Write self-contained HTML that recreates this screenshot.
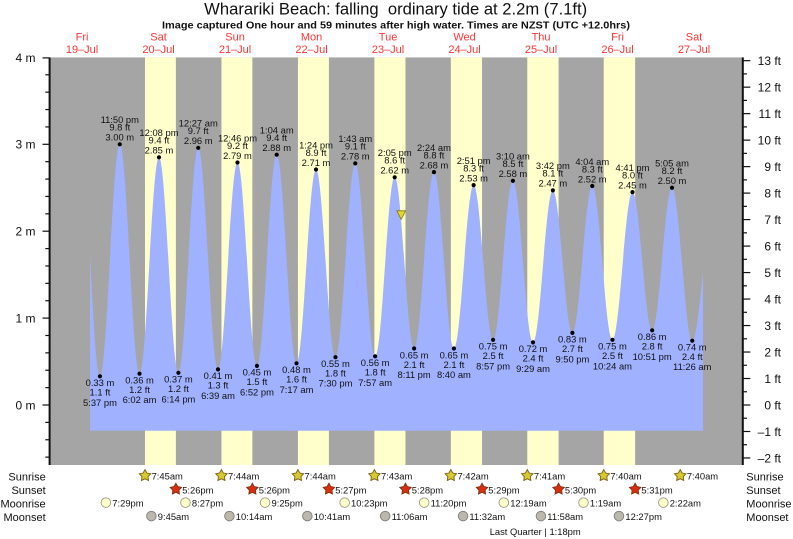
<!DOCTYPE html>
<html><head><meta charset="utf-8"><style>
html,body{margin:0;padding:0;background:#fff;}
svg{display:block;font-family:"Liberation Sans",Arial,sans-serif;}
.lb{font-size:9.4px;fill:#111;text-anchor:middle;}
.dy{font-size:11px;fill:#ff3535;text-anchor:middle;}
.ax{font-size:12px;fill:#111;}
.ev{font-size:9.4px;fill:#111;}
.rw{font-size:11px;fill:#111;}
</style></head><body>
<svg width="793" height="539" viewBox="0 0 793 539" xmlns="http://www.w3.org/2000/svg">
<defs>
<path id="star" d="M0,-6 L1.88,-2.59 L5.71,-1.85 L3.04,0.99 L3.53,4.85 L0,3.2 L-3.53,4.85 L-3.04,0.99 L-5.71,-1.85 L-1.88,-2.59 Z"/>
<clipPath id="cp"><rect x="90" y="50" width="613" height="420"/></clipPath>
</defs>
<rect width="793" height="539" fill="#fff"/>
<!-- titles -->
<text x="395.7" y="14.5" text-anchor="middle" font-size="16.6" fill="#111" style="white-space:pre" textLength="383" lengthAdjust="spacingAndGlyphs">Wharariki Beach: falling  ordinary tide at 2.2m (7.1ft)</text>
<text x="396" y="28.7" text-anchor="middle" font-size="10.3" font-weight="bold" fill="#111" textLength="468" lengthAdjust="spacingAndGlyphs">Image captured One hour and 59 minutes after high water. Times are NZST (UTC +12.0hrs)</text>
<!-- day labels -->
<g class="dy">
<text x="82.05" y="40.7">Fri</text><text x="82.05" y="53">19–Jul</text>
<text x="158.55" y="40.7">Sat</text><text x="158.55" y="53">20–Jul</text>
<text x="235.05" y="40.7">Sun</text><text x="235.05" y="53">21–Jul</text>
<text x="311.55" y="40.7">Mon</text><text x="311.55" y="53">22–Jul</text>
<text x="388.05" y="40.7">Tue</text><text x="388.05" y="53">23–Jul</text>
<text x="464.55" y="40.7">Wed</text><text x="464.55" y="53">24–Jul</text>
<text x="541.05" y="40.7">Thu</text><text x="541.05" y="53">25–Jul</text>
<text x="617.55" y="40.7">Fri</text><text x="617.55" y="53">26–Jul</text>
<text x="694.05" y="40.7">Sat</text><text x="694.05" y="53">27–Jul</text>
</g>
<!-- plot background -->
<rect x="50" y="57.4" width="692" height="407.6" fill="#a5a5a5"/>
<g fill="#ffffcc">
<rect x="145.0" y="57.4" width="30.87" height="407.6"/>
<rect x="221.45" y="57.4" width="30.92" height="407.6"/>
<rect x="297.95" y="57.4" width="30.97" height="407.6"/>
<rect x="374.4" y="57.4" width="31.08" height="407.6"/>
<rect x="450.84" y="57.4" width="31.19" height="407.6"/>
<rect x="527.29" y="57.4" width="31.29" height="407.6"/>
<rect x="603.74" y="57.4" width="31.4" height="407.6"/>
</g>
<!-- tide -->
<path clip-path="url(#cp)" fill="#9fb1ff" d="M80.15,430.7 L80.15,135.6
C87.36,135.6 92.74,376.3 99.95,376.3
C107.16,376.3 112.56,144.3 119.77,144.3
C126.96,144.3 132.34,373.7 139.53,373.7
C146.61,373.7 151.9,157.3 158.98,157.3
C166.06,157.3 171.34,372.8 178.42,372.8
C185.63,372.8 191.02,147.8 198.23,147.8
C205.43,147.8 210.8,369.4 218.0,369.4
C225.09,369.4 230.4,162.5 237.49,162.5
C244.57,162.5 249.86,365.9 256.94,365.9
C264.13,365.9 269.51,154.7 276.7,154.7
C283.91,154.7 289.31,363.3 296.52,363.3
C303.61,363.3 308.92,169.5 316.01,169.5
C323.09,169.5 328.38,357.2 335.46,357.2
C342.67,357.2 348.06,163.4 355.27,163.4
C362.5,163.4 367.91,356.3 375.14,356.3
C382.26,356.3 387.57,177.3 394.69,177.3
C401.77,177.3 407.05,348.5 414.13,348.5
C421.34,348.5 426.74,172.1 433.95,172.1
C441.22,172.1 446.66,348.5 453.93,348.5
C461.1,348.5 466.46,185.1 473.63,185.1
C480.71,185.1 486.0,339.8 493.08,339.8
C500.29,339.8 505.69,180.8 512.9,180.8
C520.23,180.8 525.7,342.4 533.03,342.4
C540.24,342.4 545.63,190.4 552.84,190.4
C559.96,190.4 565.27,332.9 572.39,332.9
C579.62,332.9 585.03,186.0 592.26,186.0
C599.61,186.0 605.1,339.8 612.45,339.8
C619.74,339.8 625.19,192.1 632.48,192.1
C639.63,192.1 644.98,330.3 652.13,330.3
C659.36,330.3 664.77,187.75 672.0,187.75
C679.37,187.75 684.88,340.7 692.25,340.7
C699.49,340.7 704.91,219 712.15,219
L712.15,430.7 Z"/>
<!-- extreme dots -->
<g fill="#000">
<circle cx="99.95" cy="376.3" r="2.1"/><circle cx="119.77" cy="144.3" r="2.1"/>
<circle cx="139.53" cy="373.7" r="2.1"/><circle cx="158.98" cy="157.3" r="2.1"/>
<circle cx="178.42" cy="372.8" r="2.1"/><circle cx="198.23" cy="147.8" r="2.1"/>
<circle cx="218.0" cy="369.4" r="2.1"/><circle cx="237.49" cy="162.5" r="2.1"/>
<circle cx="256.94" cy="365.9" r="2.1"/><circle cx="276.7" cy="154.7" r="2.1"/>
<circle cx="296.52" cy="363.3" r="2.1"/><circle cx="316.01" cy="169.5" r="2.1"/>
<circle cx="335.46" cy="357.2" r="2.1"/><circle cx="355.27" cy="163.4" r="2.1"/>
<circle cx="375.14" cy="356.3" r="2.1"/><circle cx="394.69" cy="177.3" r="2.1"/>
<circle cx="414.13" cy="348.5" r="2.1"/><circle cx="433.95" cy="172.1" r="2.1"/>
<circle cx="453.93" cy="348.5" r="2.1"/><circle cx="473.63" cy="185.1" r="2.1"/>
<circle cx="493.08" cy="339.8" r="2.1"/><circle cx="512.9" cy="180.8" r="2.1"/>
<circle cx="533.03" cy="342.4" r="2.1"/><circle cx="552.84" cy="190.4" r="2.1"/>
<circle cx="572.39" cy="332.9" r="2.1"/><circle cx="592.26" cy="186.0" r="2.1"/>
<circle cx="612.45" cy="339.8" r="2.1"/><circle cx="632.48" cy="192.1" r="2.1"/>
<circle cx="652.13" cy="330.3" r="2.1"/><circle cx="672.0" cy="187.75" r="2.1"/>
<circle cx="692.25" cy="340.7" r="2.1"/>
</g>
<!-- high labels -->
<g class="lb">
<text x="119.77" y="123.1">11:50 pm</text><text x="119.77" y="130.6">9.8 ft</text><text x="119.77" y="140.6">3.00 m</text>
<text x="158.98" y="136.1">12:08 pm</text><text x="158.98" y="143.6">9.4 ft</text><text x="158.98" y="153.6">2.85 m</text>
<text x="198.23" y="126.6">12:27 am</text><text x="198.23" y="134.1">9.7 ft</text><text x="198.23" y="144.1">2.96 m</text>
<text x="237.49" y="141.3">12:46 pm</text><text x="237.49" y="148.8">9.2 ft</text><text x="237.49" y="158.8">2.79 m</text>
<text x="276.7" y="133.5">1:04 am</text><text x="276.7" y="141.0">9.4 ft</text><text x="276.7" y="151.0">2.88 m</text>
<text x="316.01" y="148.3">1:24 pm</text><text x="316.01" y="155.8">8.9 ft</text><text x="316.01" y="165.8">2.71 m</text>
<text x="355.27" y="142.2">1:43 am</text><text x="355.27" y="149.7">9.1 ft</text><text x="355.27" y="159.7">2.78 m</text>
<text x="394.69" y="156.1">2:05 pm</text><text x="394.69" y="163.6">8.6 ft</text><text x="394.69" y="173.6">2.62 m</text>
<text x="433.95" y="150.9">2:24 am</text><text x="433.95" y="158.4">8.8 ft</text><text x="433.95" y="168.4">2.68 m</text>
<text x="473.63" y="163.9">2:51 pm</text><text x="473.63" y="171.4">8.3 ft</text><text x="473.63" y="181.4">2.53 m</text>
<text x="512.9" y="159.6">3:10 am</text><text x="512.9" y="167.1">8.5 ft</text><text x="512.9" y="177.1">2.58 m</text>
<text x="552.84" y="169.2">3:42 pm</text><text x="552.84" y="176.7">8.1 ft</text><text x="552.84" y="186.7">2.47 m</text>
<text x="592.26" y="164.8">4:04 am</text><text x="592.26" y="172.3">8.3 ft</text><text x="592.26" y="182.3">2.52 m</text>
<text x="632.48" y="170.9">4:41 pm</text><text x="632.48" y="178.4">8.0 ft</text><text x="632.48" y="188.4">2.45 m</text>
<text x="672.0" y="166.5">5:05 am</text><text x="672.0" y="174.0">8.2 ft</text><text x="672.0" y="184.0">2.50 m</text>
</g>
<!-- low labels -->
<g class="lb">
<text x="99.95" y="386.1">0.33 m</text><text x="99.95" y="395.6">1.1 ft</text><text x="99.95" y="405.8">5:37 pm</text>
<text x="139.53" y="383.5">0.36 m</text><text x="139.53" y="393.0">1.2 ft</text><text x="139.53" y="403.2">6:02 am</text>
<text x="178.42" y="382.6">0.37 m</text><text x="178.42" y="392.1">1.2 ft</text><text x="178.42" y="402.3">6:14 pm</text>
<text x="218.0" y="379.2">0.41 m</text><text x="218.0" y="388.7">1.3 ft</text><text x="218.0" y="398.9">6:39 am</text>
<text x="256.94" y="375.7">0.45 m</text><text x="256.94" y="385.2">1.5 ft</text><text x="256.94" y="395.4">6:52 pm</text>
<text x="296.52" y="373.1">0.48 m</text><text x="296.52" y="382.6">1.6 ft</text><text x="296.52" y="392.8">7:17 am</text>
<text x="335.46" y="367.0">0.55 m</text><text x="335.46" y="376.5">1.8 ft</text><text x="335.46" y="386.7">7:30 pm</text>
<text x="375.14" y="366.1">0.56 m</text><text x="375.14" y="375.6">1.8 ft</text><text x="375.14" y="385.8">7:57 am</text>
<text x="414.13" y="358.3">0.65 m</text><text x="414.13" y="367.8">2.1 ft</text><text x="414.13" y="378.0">8:11 pm</text>
<text x="453.93" y="358.3">0.65 m</text><text x="453.93" y="367.8">2.1 ft</text><text x="453.93" y="378.0">8:40 am</text>
<text x="493.08" y="349.6">0.75 m</text><text x="493.08" y="359.1">2.5 ft</text><text x="493.08" y="369.3">8:57 pm</text>
<text x="533.03" y="352.2">0.72 m</text><text x="533.03" y="361.7">2.4 ft</text><text x="533.03" y="371.9">9:29 am</text>
<text x="572.39" y="342.7">0.83 m</text><text x="572.39" y="352.2">2.7 ft</text><text x="572.39" y="362.4">9:50 pm</text>
<text x="612.45" y="349.6">0.75 m</text><text x="612.45" y="359.1">2.5 ft</text><text x="612.45" y="369.3">10:24 am</text>
<text x="652.13" y="340.1">0.86 m</text><text x="652.13" y="349.6">2.8 ft</text><text x="652.13" y="359.8">10:51 pm</text>
<text x="692.25" y="350.5">0.74 m</text><text x="692.25" y="360.0">2.4 ft</text><text x="692.25" y="370.2">11:26 am</text>
</g>
<!-- current position marker -->
<polygon points="396.8,210.8 405.6,210.8 401.2,219.4" fill="#e4d62a" stroke="#857510" stroke-width="0.8"/>
<!-- axes -->
<g stroke="#111" fill="none">
<line x1="49.6" y1="57.4" x2="49.6" y2="465" stroke-width="2"/>
<line x1="742.8" y1="57.4" x2="742.8" y2="465" stroke-width="2"/>
<g stroke-width="1.2">
<line x1="42.5" y1="405" x2="49" y2="405"/><line x1="42.5" y1="318.1" x2="49" y2="318.1"/>
<line x1="42.5" y1="231.2" x2="49" y2="231.2"/><line x1="42.5" y1="144.3" x2="49" y2="144.3"/>
<line x1="42.5" y1="57.9" x2="49" y2="57.9"/>
<line x1="45.3" y1="457.14" x2="49" y2="457.14"/><line x1="45.3" y1="439.76" x2="49" y2="439.76"/>
<line x1="45.3" y1="422.38" x2="49" y2="422.38"/><line x1="45.3" y1="387.62" x2="49" y2="387.62"/>
<line x1="45.3" y1="370.24" x2="49" y2="370.24"/><line x1="45.3" y1="352.86" x2="49" y2="352.86"/>
<line x1="45.3" y1="335.48" x2="49" y2="335.48"/><line x1="45.3" y1="300.72" x2="49" y2="300.72"/>
<line x1="45.3" y1="283.34" x2="49" y2="283.34"/><line x1="45.3" y1="265.96" x2="49" y2="265.96"/>
<line x1="45.3" y1="248.58" x2="49" y2="248.58"/><line x1="45.3" y1="213.82" x2="49" y2="213.82"/>
<line x1="45.3" y1="196.44" x2="49" y2="196.44"/><line x1="45.3" y1="179.06" x2="49" y2="179.06"/>
<line x1="45.3" y1="161.68" x2="49" y2="161.68"/><line x1="45.3" y1="126.92" x2="49" y2="126.92"/>
<line x1="45.3" y1="109.54" x2="49" y2="109.54"/><line x1="45.3" y1="92.16" x2="49" y2="92.16"/>
<line x1="45.3" y1="74.78" x2="49" y2="74.78"/>
<!-- right majors -->
<line x1="743.5" y1="457.97" x2="750.3" y2="457.97"/><line x1="743.5" y1="431.49" x2="750.3" y2="431.49"/>
<line x1="743.5" y1="405" x2="750.3" y2="405"/><line x1="743.5" y1="378.51" x2="750.3" y2="378.51"/>
<line x1="743.5" y1="352.03" x2="750.3" y2="352.03"/><line x1="743.5" y1="325.54" x2="750.3" y2="325.54"/>
<line x1="743.5" y1="299.05" x2="750.3" y2="299.05"/><line x1="743.5" y1="272.56" x2="750.3" y2="272.56"/>
<line x1="743.5" y1="246.08" x2="750.3" y2="246.08"/><line x1="743.5" y1="219.59" x2="750.3" y2="219.59"/>
<line x1="743.5" y1="193.10" x2="750.3" y2="193.10"/><line x1="743.5" y1="166.62" x2="750.3" y2="166.62"/>
<line x1="743.5" y1="140.13" x2="750.3" y2="140.13"/><line x1="743.5" y1="113.64" x2="750.3" y2="113.64"/>
<line x1="743.5" y1="87.16" x2="750.3" y2="87.16"/><line x1="743.5" y1="60.67" x2="750.3" y2="60.67"/>
<!-- right minors -->
<line x1="743.5" y1="444.73" x2="747" y2="444.73"/><line x1="743.5" y1="418.24" x2="747" y2="418.24"/>
<line x1="743.5" y1="391.76" x2="747" y2="391.76"/><line x1="743.5" y1="365.27" x2="747" y2="365.27"/>
<line x1="743.5" y1="338.78" x2="747" y2="338.78"/><line x1="743.5" y1="312.30" x2="747" y2="312.30"/>
<line x1="743.5" y1="285.81" x2="747" y2="285.81"/><line x1="743.5" y1="259.32" x2="747" y2="259.32"/>
<line x1="743.5" y1="232.83" x2="747" y2="232.83"/><line x1="743.5" y1="206.35" x2="747" y2="206.35"/>
<line x1="743.5" y1="179.86" x2="747" y2="179.86"/><line x1="743.5" y1="153.37" x2="747" y2="153.37"/>
<line x1="743.5" y1="126.89" x2="747" y2="126.89"/><line x1="743.5" y1="100.40" x2="747" y2="100.40"/>
<line x1="743.5" y1="73.91" x2="747" y2="73.91"/>
</g>
</g>
<!-- axis labels -->
<g class="ax" text-anchor="end">
<text x="35.5" y="62.2">4 m</text><text x="35.5" y="148.6">3 m</text>
<text x="35.5" y="235.5">2 m</text><text x="35.5" y="322.4">1 m</text>
<text x="35.5" y="409.3">0 m</text>
<text x="781" y="64.9">13 ft</text><text x="781" y="91.4">12 ft</text>
<text x="781" y="117.9">11 ft</text><text x="781" y="144.4">10 ft</text>
<text x="781" y="170.9">9 ft</text><text x="781" y="197.4">8 ft</text>
<text x="781" y="223.9">7 ft</text><text x="781" y="250.4">6 ft</text>
<text x="781" y="276.9">5 ft</text><text x="781" y="303.3">4 ft</text>
<text x="781" y="329.8">3 ft</text><text x="781" y="356.3">2 ft</text>
<text x="781" y="382.8">1 ft</text><text x="781" y="409.3">0 ft</text>
<text x="781" y="435.8">–1 ft</text><text x="781" y="462.3">–2 ft</text>
</g>
<!-- bottom rows labels -->
<g class="rw">
<text x="45.7" y="480.6" text-anchor="end">Sunrise</text>
<text x="45.7" y="494.1" text-anchor="end">Sunset</text>
<text x="45.7" y="507.6" text-anchor="end">Moonrise</text>
<text x="45.7" y="521.0" text-anchor="end">Moonset</text>
<text x="746.3" y="480.6">Sunrise</text>
<text x="746.3" y="494.1">Sunset</text>
<text x="746.3" y="507.6">Moonrise</text>
<text x="746.3" y="521.0">Moonset</text>
</g>
<!-- sunrise stars -->
<g fill="#d6ca30" stroke="#7d5f15" stroke-width="0.9">
<use href="#star" x="145.0" y="475.6"/><use href="#star" x="221.45" y="475.6"/>
<use href="#star" x="297.95" y="475.6"/><use href="#star" x="374.4" y="475.6"/>
<use href="#star" x="450.84" y="475.6"/><use href="#star" x="527.29" y="475.6"/>
<use href="#star" x="603.74" y="475.6"/><use href="#star" x="680.24" y="475.6"/>
</g>
<g fill="#dc2c12" stroke="#7a3510" stroke-width="0.9">
<use href="#star" x="175.87" y="489.2"/><use href="#star" x="252.37" y="489.2"/>
<use href="#star" x="328.92" y="489.2"/><use href="#star" x="405.48" y="489.2"/>
<use href="#star" x="482.03" y="489.2"/><use href="#star" x="558.58" y="489.2"/>
<use href="#star" x="635.14" y="489.2"/>
</g>
<g fill="#ffffcc" stroke="#9c9a80" stroke-width="0.9">
<circle cx="105.9" cy="502.6" r="4.8"/><circle cx="185.48" cy="502.6" r="4.8"/>
<circle cx="265.07" cy="502.6" r="4.8"/><circle cx="344.65" cy="502.6" r="4.8"/>
<circle cx="424.18" cy="502.6" r="4.8"/><circle cx="503.81" cy="502.6" r="4.8"/>
<circle cx="583.5" cy="502.6" r="4.8"/><circle cx="663.34" cy="502.6" r="4.8"/>
</g>
<g fill="#bcb8ac" stroke="#7c7c78" stroke-width="0.9">
<circle cx="151.38" cy="516.1" r="4.8"/><circle cx="229.42" cy="516.1" r="4.8"/>
<circle cx="307.35" cy="516.1" r="4.8"/><circle cx="385.18" cy="516.1" r="4.8"/>
<circle cx="463.06" cy="516.1" r="4.8"/><circle cx="540.95" cy="516.1" r="4.8"/>
<circle cx="618.98" cy="516.1" r="4.8"/>
</g>
<g class="ev">
<text x="151.6" y="479.6">7:45am</text><text x="228.05" y="479.6">7:44am</text>
<text x="304.55" y="479.6">7:44am</text><text x="381.0" y="479.6">7:43am</text>
<text x="457.44" y="479.6">7:42am</text><text x="533.89" y="479.6">7:41am</text>
<text x="610.34" y="479.6">7:40am</text><text x="686.84" y="479.6">7:40am</text>
<text x="182.2" y="493.4">5:26pm</text><text x="258.7" y="493.4">5:26pm</text>
<text x="335.2" y="493.4">5:27pm</text><text x="411.8" y="493.4">5:28pm</text>
<text x="488.3" y="493.4">5:29pm</text><text x="564.9" y="493.4">5:30pm</text>
<text x="641.4" y="493.4">5:31pm</text>
<text x="112.3" y="506.6">7:29pm</text><text x="191.9" y="506.6">8:27pm</text>
<text x="271.5" y="506.6">9:25pm</text><text x="351.0" y="506.6">10:23pm</text>
<text x="430.6" y="506.6">11:20pm</text><text x="510.2" y="506.6">12:19am</text>
<text x="589.9" y="506.6">1:19am</text><text x="669.7" y="506.6">2:22am</text>
<text x="157.8" y="520.0">9:45am</text><text x="235.8" y="520.0">10:14am</text>
<text x="313.7" y="520.0">10:41am</text><text x="391.6" y="520.0">11:06am</text>
<text x="469.4" y="520.0">11:32am</text><text x="547.3" y="520.0">11:58am</text>
<text x="625.4" y="520.0">12:27pm</text>
<text x="489.7" y="534.8">Last Quarter | 1:18pm</text>
</g>
</svg>
</body></html>
